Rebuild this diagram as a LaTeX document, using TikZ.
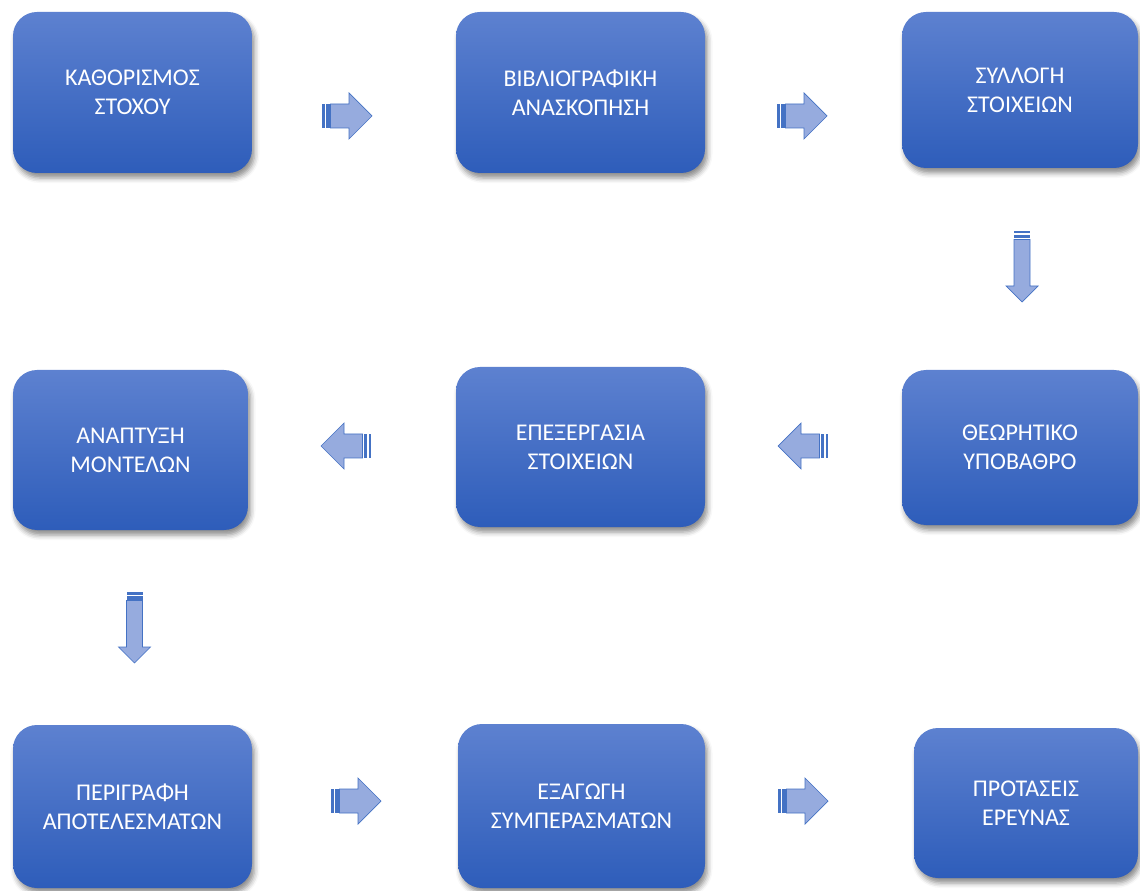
\documentclass[tikz,border=0pt]{standalone}
\usepackage{fontspec}
\setmainfont{Carlito}
\usetikzlibrary{shadows.blur}

\newlength\px
\setlength\px{0.75pt}

\definecolor{stagetop}{RGB}{93,129,208}
\definecolor{stagebot}{RGB}{46,93,186}
\definecolor{arrowfill}{RGB}{150,171,222}
\definecolor{arrowline}{RGB}{68,114,196}

\tikzset{
    stage/.style={rounded corners=24\px, top color=stagetop, bottom color=stagebot,
        text=white, align=center, inner sep=0pt,
        font=\fontsize{18}{21.75}\selectfont,
        blur shadow={shadow xshift=2.5\px, shadow yshift=-5\px,
            shadow blur radius=5\px, shadow opacity=45}},
    arrowpart/.style={draw=arrowline, line width=0.7\px, line join=miter},
    pics/striped/.style n args={3}{code={
        \draw[arrowpart, fill=arrowfill]
            (8.5,{-#3/2}) -- ({#1-#2/2},{-#3/2}) -- ({#1-#2/2},{-#2/2}) -- (#1,0)
            -- ({#1-#2/2},{#2/2}) -- ({#1-#2/2},{#3/2}) -- (8.5,{#3/2}) -- cycle;
        \fill[arrowline] (0,{-#3/2}) rectangle (2.5,{#3/2});
        \fill[arrowline] (4,{-#3/2}) rectangle (7.5,{#3/2});
    }}
}

\begin{document}
\begin{tikzpicture}[x=0.75pt, y=-0.75pt]

    \useasboundingbox (0,0) rectangle (1140,891);

    % stages
    \node (kath) at (132.5,92.5) [stage, minimum width=239\px, minimum height=161\px] {ΚΑΘΟΡΙΣΜΟΣ\\ΣΤΟΧΟΥ};
    \node (bibl) at (580.5,92.5) [stage, minimum width=249\px, minimum height=161\px] {ΒΙΒΛΙΟΓΡΑΦΙΚΗ\\ΑΝΑΣΚΟΠΗΣΗ};
    \node (syll) at (1020,90)    [stage, minimum width=236\px, minimum height=156\px] {ΣΥΛΛΟΓΗ\\ΣΤΟΙΧΕΙΩΝ};

    \node (theo) at (1020,447.5) [stage, minimum width=236\px, minimum height=155\px] {ΘΕΩΡΗΤΙΚΟ\\ΥΠΟΒΑΘΡΟ};
    \node (epex) at (580.5,447)  [stage, minimum width=249\px, minimum height=160\px] {ΕΠΕΞΕΡΓΑΣΙΑ\\ΣΤΟΙΧΕΙΩΝ};
    \node (anap) at (130.5,450)  [stage, minimum width=235\px, minimum height=160\px] {ΑΝΑΠΤΥΞΗ\\ΜΟΝΤΕΛΩΝ};

    \node (peri) at (132.5,806.5) [stage, minimum width=239\px, minimum height=163\px] {ΠΕΡΙΓΡΑΦΗ\\ΑΠΟΤΕΛΕΣΜΑΤΩΝ};
    \node (exag) at (581.5,806)   [stage, minimum width=247\px, minimum height=164\px] {ΕΞΑΓΩΓΗ\\ΣΥΜΠΕΡΑΣΜΑΤΩΝ};
    \node (prot) at (1026,803)    [stage, minimum width=224\px, minimum height=150\px] {ΠΡΟΤΑΣΕΙΣ\\ΕΡΕΥΝΑΣ};

    % arrow tails
    \coordinate (a1) at (322,116);
    \coordinate (a2) at (777,116);
    \coordinate (a3) at (1022,231);
    \coordinate (a4) at (828,446);
    \coordinate (a5) at (371,446);
    \coordinate (a6) at (134.5,592);
    \coordinate (a7) at (331,801);
    \coordinate (a8) at (778,801);

    \foreach \a/\ang in {a1/0,a2/0,a4/180,a5/180,a7/0,a8/0}
        \pic[rotate=\ang] at (\a) {striped={50}{46}{24}};
    \foreach \a in {a3,a6}
        \pic[rotate=-90] at (\a) {striped={71}{32}{16}};

\end{tikzpicture}
\end{document}
